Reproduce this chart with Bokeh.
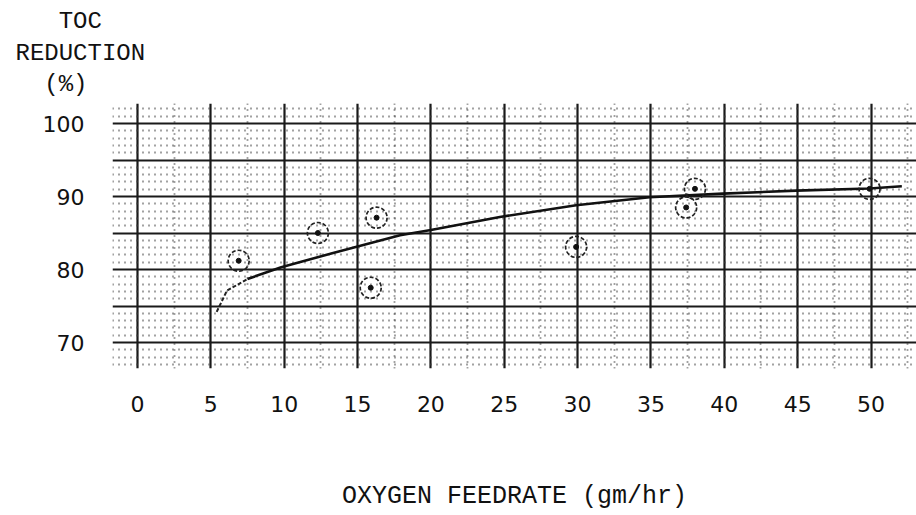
from bokeh.plotting import figure
from bokeh.models import FixedTicker, Range1d, Title
from bokeh.embed import file_html
from bokeh.resources import INLINE

# ---- data ----
x_ticks = [0, 5, 10, 15, 20, 25, 30, 35, 40, 45, 50]
y_ticks = [70, 80, 90, 100]

point_x = [6.9, 12.3, 16.3, 15.9, 29.9, 37.4, 38.0, 49.9]
point_y = [81.2, 85.0, 87.1, 77.5, 83.1, 88.5, 91.05, 91.05]

curve_dash_x = [5.4, 6.1, 7.5]
curve_dash_y = [74.2, 77.1, 78.7]
curve_x = [7.5, 9.8, 13.4, 17.9, 20.0, 24.7, 29.9, 34.9, 39.9, 44.9, 49.9, 52.1]
curve_y = [78.7, 80.3, 82.3, 84.7, 85.4, 87.2, 88.8, 89.9, 90.4, 90.8, 91.1, 91.4]

x_title = "OXYGEN FEEDRATE (gm/hr)"
y_title_lines = ["TOC", "REDUCTION", "(%)"]
y_title_indent = [3, 0, 2]   # leading blanks (monospace) to centre the lines

MONO = "Liberation Mono"
SANS = "DejaVu Sans"

p = figure(width=916, height=515, output_backend="svg", toolbar_location=None,
           x_range=Range1d(-1.7, 53.1), y_range=Range1d(66.44, 102.74),
           min_border_left=112, min_border_right=0, min_border_top=103,
           min_border_bottom=147)
p.outline_line_color = None
p.background_fill_color = "white"
p.border_fill_color = "white"

# grids
p.xgrid.ticker = FixedTicker(ticks=x_ticks,
                             minor_ticks=[2.5 + 5 * i for i in range(11)])
p.ygrid.ticker = FixedTicker(ticks=[70, 75, 80, 85, 90, 95, 100],
                             minor_ticks=[v for v in range(67, 103) if v % 5 != 0])
for g in (p.xgrid, p.ygrid):
    g.grid_line_color = "#1a1a1a"
    g.grid_line_width = 2.2
    g.minor_grid_line_color = "#444444"
    g.minor_grid_line_width = 1.8
    g.minor_grid_line_dash = "1 5"

# axes
p.xaxis.ticker = FixedTicker(ticks=x_ticks)
p.yaxis.ticker = FixedTicker(ticks=y_ticks)
for ax in (p.xaxis, p.yaxis):
    ax.axis_line_color = None
    ax.major_tick_line_color = None
    ax.minor_tick_line_color = None
    ax.major_label_text_font = SANS
    ax.major_label_text_font_size = "22px"
    ax.major_label_text_color = "#111111"
p.xaxis.major_label_standoff = 21
p.yaxis.major_label_standoff = 22
p.xaxis.axis_label = x_title
p.xaxis.axis_label_text_font = MONO
p.xaxis.axis_label_text_font_size = "25px"
p.xaxis.axis_label_text_font_style = "normal"
p.xaxis.axis_label_text_color = "#111111"
p.xaxis.axis_label_standoff = 67

# curve
p.line(curve_dash_x, curve_dash_y, line_color="#222222", line_width=2, line_dash="4 2")
p.line(curve_x, curve_y, line_color="#111111", line_width=2.6)

# points: dashed circles with a dot
p.scatter(point_x, point_y, marker="circle", size=21, fill_color=None,
          line_color="#222222", line_width=1.7, line_dash="4 2")
p.scatter(point_x, point_y, marker="circle", size=5, fill_color="#111111",
          line_color="#111111")

# y title (top-left, horizontal, three centred lines)
p.title.visible = False
ytxt = "\n".join("\u00a0" * n + t for t, n in zip(y_title_lines, y_title_indent))
p.add_layout(Title(text=ytxt, align="left", offset=-97,
                   text_font=MONO, text_font_size="24px",
                   text_font_style="normal", text_color="#111111",
                   text_line_height=1.18, standoff=10), "above")

open("out.html", "w").write(file_html(p, INLINE))
